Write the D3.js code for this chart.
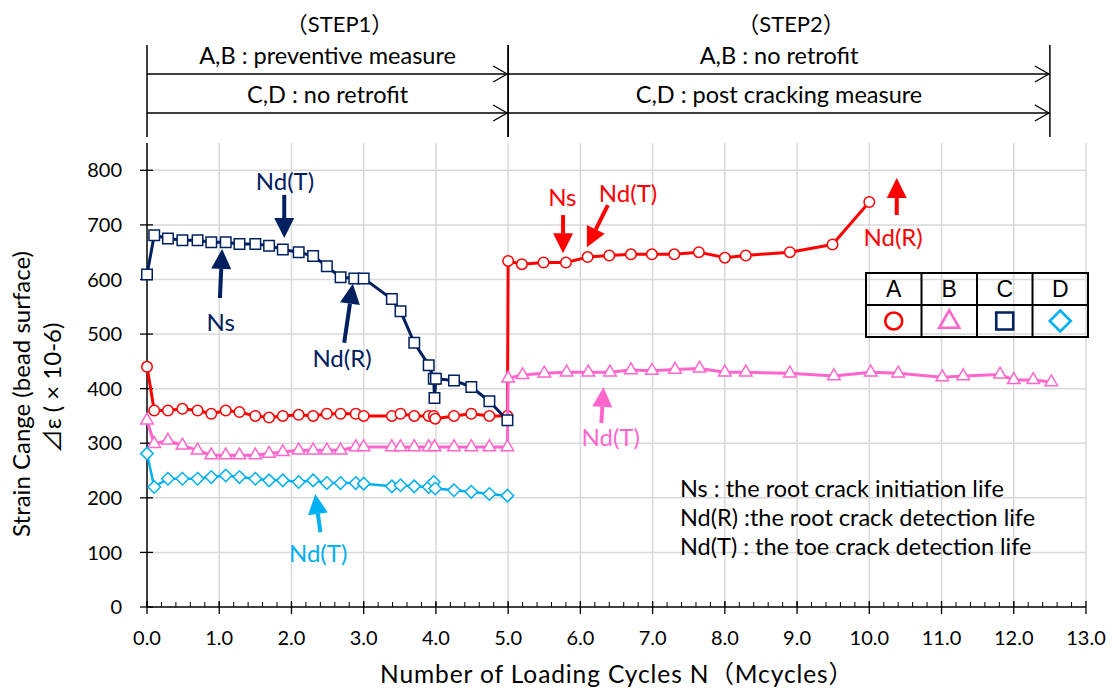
<html>
<head>
<script src="https://cdn.jsdelivr.net/npm/d3@7"></script>
<style>
  body { margin: 0; background: #fff; }
  text { font-family: Lato, "Noto Sans CJK JP", "DejaVu Sans", sans-serif; }
</style>
</head>
<body>
<svg id="chart" width="1116" height="692"></svg>
<script>
// data: [N (Mcycles), strain (x10-6)]
const seriesA = [[0,440],[0.1,360],[0.29,360],[0.49,363],[0.7,360],[0.89,354],[1.09,360],[1.28,357],[1.5,350],
  [1.69,347],[1.88,350],[2.1,352],[2.3,350],[2.49,354],[2.68,354],[2.89,354],[3.0,350],[3.39,350],[3.51,354],
  [3.7,350],[3.9,350],[3.97,350],[3.99,345],[4.25,350],[4.49,354],[4.74,350],[4.99,350],
  [5.0,634],[5.19,628],[5.49,631],[5.8,631],[6.1,641],[6.4,644],[6.7,646],[6.99,646],[7.3,646],[7.64,650],
  [8.0,640],[8.29,644],[8.9,650],[9.49,664],[10.0,742]];
const seriesB = [[0,342],[0.1,299],[0.29,305],[0.49,296],[0.7,287],[0.89,278],[1.09,278],[1.28,278],[1.5,278],
  [1.69,281],[1.88,284],[2.1,287],[2.3,287],[2.49,287],[2.68,287],[2.89,293],[3.0,293],[3.39,293],[3.51,293],
  [3.7,293],[3.9,293],[3.98,293],[4.25,293],[4.49,293],[4.74,293],[4.99,293],
  [5.0,419],[5.2,425],[5.5,428],[5.81,430],[6.11,430],[6.41,430],[6.7,434],[6.99,433],[7.31,435],[7.65,437],
  [8.0,430],[8.29,430],[8.9,428],[9.51,423],[10.02,430],[10.4,428],[11.01,421],[11.3,423],[11.81,426],
  [12.0,416],[12.27,416],[12.52,412]];
const seriesC = [[0,609],[0.1,681],[0.29,675],[0.49,672],[0.7,672],[0.89,668],[1.09,668],[1.28,665],[1.5,665],
  [1.69,662],[1.88,655],[2.1,650],[2.3,643],[2.49,624],[2.68,604],[2.87,602],[3.0,602],[3.39,564],[3.51,542],
  [3.7,484],[3.9,443],[3.97,418],[3.98,383],[4.0,418],[4.25,415],[4.49,403],[4.74,377],[4.99,342]];
const seriesD = [[0,281],[0.1,220],[0.29,235],[0.49,235],[0.7,235],[0.89,238],[1.09,241],[1.28,238],[1.5,235],
  [1.69,232],[1.88,232],[2.1,229],[2.3,232],[2.49,227],[2.68,227],[2.89,227],[3.0,226],[3.39,221],[3.51,223],
  [3.7,221],[3.9,220],[3.97,229],[3.99,217],[4.25,214],[4.49,211],[4.74,207],[4.99,204]];

const yTicks = [0,100,200,300,400,500,600,700,800];
const xTicks = d3.range(0, 13.01, 1);

// arrow notes: label position, arrow start, arrow tip (data units)
const notes = [
  {label:"Nd(T)", color:"#002060", text:[1.91,779], from:[1.90,755], to:[1.90,676]},
  {label:"Ns",    color:"#002060", text:[1.02,522], from:[1.01,566], to:[1.04,656]},
  {label:"Nd(R)", color:"#002060", text:[2.70,456], from:[2.73,484], to:[2.85,592]},
  {label:"Ns",    color:"#FF0000", text:[5.75,751], from:[5.76,718], to:[5.76,648]},
  {label:"Nd(T)", color:"#FF0000", text:[6.66,758], from:[6.38,736], to:[6.09,659]},
  {label:"Nd(R)", color:"#FF0000", text:[10.33,678], from:[10.38,718], to:[10.38,786]},
  {label:"Nd(T)", color:"#FF66CC", text:[6.42,310], from:[6.29,337], to:[6.32,403]},
  {label:"Nd(T)", color:"#00B0F0", text:[2.37,99], from:[2.40,137], to:[2.33,207]}
];

const explain = ["Ns : the root crack initiation life",
                 "Nd(R) :the root crack detection life",
                 "Nd(T) : the toe crack detection life"];

const series = [
  {key:"A", data:seriesA, color:"#FF0000", shape:"circle"},
  {key:"B", data:seriesB, color:"#FF66CC", shape:"triangle"},
  {key:"C", data:seriesC, color:"#002060", shape:"square"},
  {key:"D", data:seriesD, color:"#00B0F0", shape:"diamond"}
];

const svg = d3.select("#chart");
const x = d3.scaleLinear().domain([0, 13]).range([147, 1086]);
const y = d3.scaleLinear().domain([0, 850]).range([607, 143]);

// gridlines
svg.append("g").selectAll("line.h").data(yTicks.filter(d => d > 0)).enter().append("line")
  .attr("x1", x(0)).attr("x2", x(13)).attr("y1", d => y(d)).attr("y2", d => y(d))
  .attr("stroke", "#d9d9d9").attr("stroke-width", 1.5);
svg.append("g").selectAll("line.v").data(xTicks.filter(d => d > 0)).enter().append("line")
  .attr("x1", d => x(d)).attr("x2", d => x(d)).attr("y1", y(0)).attr("y2", y(850))
  .attr("stroke", "#d9d9d9").attr("stroke-width", 1.5);

// axes
svg.append("line").attr("x1", x(0)).attr("x2", x(0)).attr("y1", y(0)).attr("y2", y(850))
  .attr("stroke", "#000").attr("stroke-width", 1.5);
svg.append("line").attr("x1", x(0)).attr("x2", x(13)).attr("y1", y(0)).attr("y2", y(0))
  .attr("stroke", "#000").attr("stroke-width", 1.5);

svg.append("g").selectAll("line").data(yTicks).enter().append("line")
  .attr("x1", x(0) - 7).attr("x2", x(0) + 6).attr("y1", d => y(d)).attr("y2", d => y(d))
  .attr("stroke", "#000").attr("stroke-width", 1.3);
svg.append("g").selectAll("text").data(yTicks).enter().append("text")
  .attr("x", 122).attr("y", d => y(d)).attr("dy", "0.36em")
  .attr("text-anchor", "end").attr("font-size", 20).text(d => d);

svg.append("g").selectAll("line").data(d3.range(0, 65).map(i => i / 5)).enter().append("line")
  .attr("x1", d => x(d)).attr("x2", d => x(d)).attr("y1", y(0) - 5).attr("y2", y(0))
  .attr("stroke", "#000").attr("stroke-width", 1);
svg.append("g").selectAll("line").data(xTicks).enter().append("line")
  .attr("x1", d => x(d)).attr("x2", d => x(d)).attr("y1", y(0) - 6).attr("y2", y(0) + 7)
  .attr("stroke", "#000").attr("stroke-width", 1.3);
svg.append("g").selectAll("text").data(xTicks).enter().append("text")
  .attr("x", d => x(d)).attr("y", 645)
  .attr("text-anchor", "middle").attr("font-size", 20).text(d => d.toFixed(1));

svg.append("text").attr("x", 617).attr("y", 683).attr("text-anchor", "middle")
  .attr("font-size", 24.5).attr("letter-spacing", 0.9).text("Number of Loading Cycles  N（Mcycles）");

svg.append("text").attr("transform", "translate(30,394) rotate(-90)").attr("text-anchor", "middle")
  .attr("font-size", 24).text("Strain Cange  (bead surface)");
svg.append("text").attr("transform", "translate(61,388) rotate(-90)").attr("text-anchor", "middle")
  .attr("font-size", 24).text("⊿ε ( × 10-6)");

// series
const line = d3.line().x(d => x(d[0])).y(d => y(d[1]));

function shapePath(shape, s) {
  if (shape === "circle") return d3.symbol(d3.symbolCircle, Math.PI * s * s / 4)();
  if (shape === "square") return d3.symbol(d3.symbolSquare, s * s)();
  if (shape === "triangle") { const h = s * Math.sqrt(3) / 2;
    return "M0," + (-h * 2 / 3) + "L" + (s / 2) + "," + (h / 3) + "L" + (-s / 2) + "," + (h / 3) + "Z"; }
  const r = s / 2;
  return "M0," + (-r) + "L" + r + ",0L0," + r + "L" + (-r) + ",0Z";
}
const markSize = {circle: 10.5, square: 10.5, triangle: 12.5, diamond: 12.5};

series.forEach(function (s) {
  const g = svg.append("g");
  g.append("path").datum(s.data).attr("d", line).attr("fill", "none")
    .attr("stroke", s.color).attr("stroke-width", s.key === "D" ? 2.5 : 3)
    .attr("stroke-linejoin", "round");
  g.selectAll("path.m").data(s.data).enter().append("path")
    .attr("d", shapePath(s.shape, markSize[s.shape]))
    .attr("transform", d => "translate(" + x(d[0]) + "," + y(d[1]) + ")")
    .attr("fill", "#fff").attr("stroke", s.color).attr("stroke-width", 1.5);
});

// arrow notes
notes.forEach(function (n) {
  const x1 = x(n.from[0]), y1 = y(n.from[1]), x2 = x(n.to[0]), y2 = y(n.to[1]);
  const len = Math.hypot(x2 - x1, y2 - y1), ux = (x2 - x1) / len, uy = (y2 - y1) / len;
  const hl = 20, hw = 10, bx = x2 - ux * hl, by = y2 - uy * hl;
  svg.append("line").attr("x1", x1).attr("y1", y1).attr("x2", bx).attr("y2", by)
    .attr("stroke", n.color).attr("stroke-width", 4);
  svg.append("path").attr("fill", n.color)
    .attr("d", "M" + x2 + "," + y2 + "L" + (bx - uy * hw) + "," + (by + ux * hw) +
      "L" + (bx + uy * hw) + "," + (by - ux * hw) + "Z");
  svg.append("text").attr("x", x(n.text[0])).attr("y", y(n.text[1])).attr("dy", "0.36em")
    .attr("text-anchor", "middle").attr("font-size", 24).attr("fill", n.color).text(n.label);
});

// step headers
const steps = [
  {title:"（STEP1）", x0:0, x1:5, rows:["A,B : preventive measure", "C,D : no retrofit"]},
  {title:"（STEP2）", x0:5, x1:12.5, rows:["A,B : no retrofit", "C,D : post cracking measure"]}
];
const rowY = [74, 113];
steps.forEach(function (st) {
  const xa = x(st.x0), xb = x(st.x1);
  svg.append("text").attr("x", (xa + xb) / 2 + 12).attr("y", 24).attr("dy", "0.36em")
    .attr("text-anchor", "middle").attr("font-size", 22).text(st.title);
  [xa, xb].forEach(function (xx) {
    svg.append("line").attr("x1", xx).attr("x2", xx).attr("y1", 45).attr("y2", 137)
      .attr("stroke", "#000").attr("stroke-width", 1.5);
  });
  st.rows.forEach(function (r, i) {
    svg.append("line").attr("x1", xa).attr("x2", xb - 1).attr("y1", rowY[i]).attr("y2", rowY[i])
      .attr("stroke", "#000").attr("stroke-width", 1.3);
    svg.append("path").attr("d", "M" + (xb - 15) + "," + (rowY[i] - 8) + "L" + (xb - 1) + "," + rowY[i] +
      "L" + (xb - 15) + "," + (rowY[i] + 8)).attr("fill", "none").attr("stroke", "#000").attr("stroke-width", 1.3);
    svg.append("text").attr("x", (xa + xb) / 2).attr("y", rowY[i] - 18).attr("dy", "0.36em")
      .attr("text-anchor", "middle").attr("font-size", 23.5).text(r);
  });
});

// legend table
const lg = {x: 866, y: 273, w: 55.5, h: 32};
const leg = svg.append("g");
series.forEach(function (s, i) {
  const cx = lg.x + lg.w * i + lg.w / 2;
  leg.append("text").attr("x", cx).attr("y", lg.y + lg.h / 2).attr("dy", "0.36em")
    .attr("text-anchor", "middle").attr("font-size", 23)
    .style("font-family", "'Liberation Sans', Arial, sans-serif").text(s.key);
  leg.append("path").attr("d", shapePath(s.shape, s.shape === "diamond" ? 21 : (s.shape === "triangle" ? 20 : 17)))
    .attr("transform", "translate(" + cx + "," + (lg.y + lg.h * 1.5 + (s.shape === "triangle" ? 1 : 0)) + ")")
    .attr("fill", "none").attr("stroke", s.color).attr("stroke-width", 2.6);
});
leg.selectAll("line.c").data(d3.range(0, 5)).enter().append("line")
  .attr("x1", i => lg.x + lg.w * i).attr("x2", i => lg.x + lg.w * i)
  .attr("y1", lg.y).attr("y2", lg.y + lg.h * 2).attr("stroke", "#000").attr("stroke-width", 2);
leg.selectAll("line.r").data(d3.range(0, 3)).enter().append("line")
  .attr("x1", lg.x - 1).attr("x2", lg.x + lg.w * 4 + 1)
  .attr("y1", i => lg.y + lg.h * i).attr("y2", i => lg.y + lg.h * i).attr("stroke", "#000").attr("stroke-width", 2);

// explanation text
svg.append("g").selectAll("text").data(explain).enter().append("text")
  .attr("x", 680).attr("y", (d, i) => 489 + i * 29).attr("dy", "0.36em")
  .attr("font-size", 23.5).text(d => d);
</script>
</body>
</html>
